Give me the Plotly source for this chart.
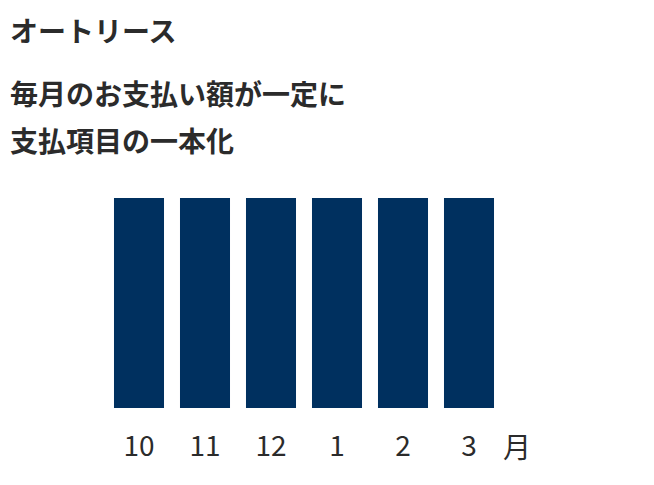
import plotly.graph_objects as go

# monthly payment is the same every month
months = ["10", "11", "12", "1", "2", "3"]
payments = [1, 1, 1, 1, 1, 1]

heading = "オートリース"
line1 = "毎月のお支払い額が一定に"
line2 = "支払項目の一本化"
unit = "月"

navy = "#00305f"
ink = "#2b2b2b"
jp = "Noto Sans CJK JP"

W, H = 654, 485
off = 8  # page body margin
top, bottom = 198 - off, H - 408 + off
plot_h = H - top - bottom

def py(p):
    # pixel row on the page -> paper y
    return (H - bottom - (p - off)) / plot_h

fig = go.Figure(go.Bar(x=list(range(len(months))), y=payments,
                       marker_color=navy, marker_line_width=0,
                       hoverinfo="skip"))

fig.update_layout(
    width=W, height=H,
    margin=dict(l=0, r=0, t=top, b=bottom),
    paper_bgcolor="white", plot_bgcolor="white",
    showlegend=False, bargap=0.242,
    font=dict(family=jp, color=ink),
)
x0 = 139 - off
fig.update_xaxes(range=[-x0 / 66, (W - x0) / 66],
                 tickmode="array", tickvals=list(range(len(months))), ticktext=months,
                 tickfont=dict(size=28, family=jp, color=ink),
                 showgrid=False, zeroline=False, showline=False, ticks="",
                 ticklabelstandoff=19)
fig.update_yaxes(range=[0, 1], visible=False)

def note(text, x, y, size, weight="bold", anchor="left", yanchor="middle"):
    fig.add_annotation(text=text, x=x / W, y=py(y), xref="paper", yref="paper",
                       xanchor=anchor, yanchor=yanchor, showarrow=False,
                       font=dict(size=size, family=jp, color=ink, weight=weight))

note(heading, 0, off, 28, yanchor="top")
note(line1, 0, 93, 28)
note(line2, 0, 140, 28)
note(unit, 517 - off, 446, 28, weight="normal", anchor="center")

fig.write_html("out.html")
